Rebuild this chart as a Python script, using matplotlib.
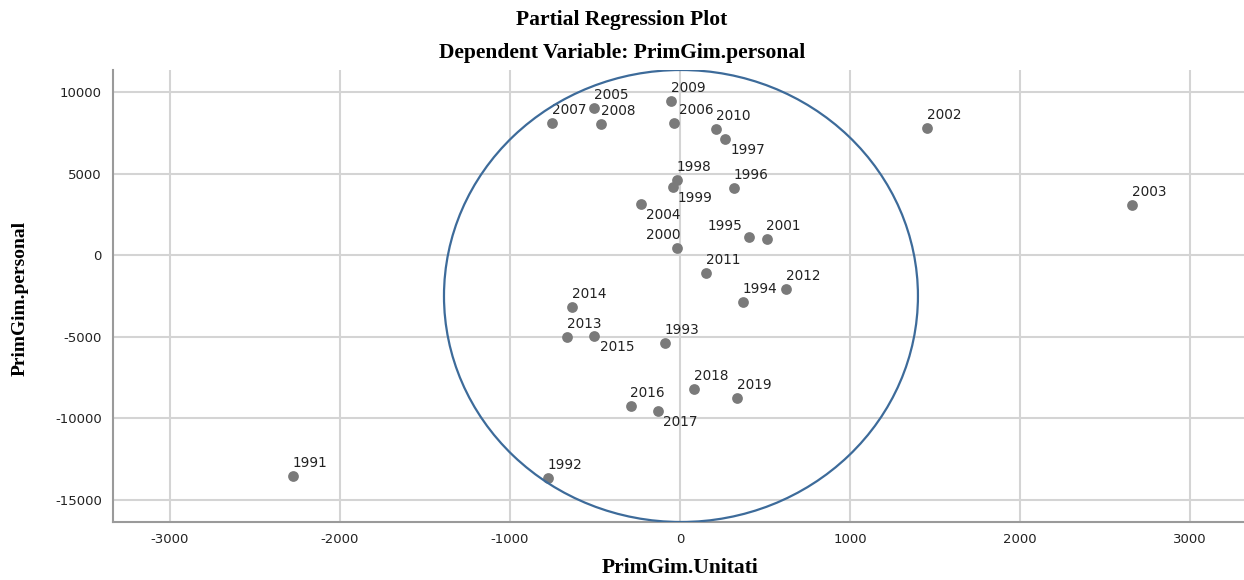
import numpy as np
import matplotlib
matplotlib.use('Agg')
import matplotlib.pyplot as plt
from matplotlib.patches import Ellipse

plt.rcParams['axes.unicode_minus'] = False

# ---------- Data ----------
years = ['1991', '1992', '2007', '2005', '2008', '2009', '2006', '2010', '1997',
         '1998', '1999', '1996', '2004', '1995', '2001', '2000', '2011', '2012',
         '1994', '2014', '2013', '2015', '1993', '2018', '2019', '2016', '2017',
         '2002', '2003']
unitati = [-2278, -778, -751, -506, -465, -53, -37, 212, 265,
           -19, -43, 319, -228, 404, 510, -19, 153, 625,
           372, -634, -663, -504, -90, 82, 335, -290, -128,
           1455, 2661]
personal = [-13521, -13681, 8098, 9055, 8055, 9485, 8098, 7767, 7135,
            4620, 4209, 4110, 3166, 1123, 982, 429, -1067, -2086,
            -2865, -3172, -5031, -4951, -5399, -8221, -8755, -9245, -9552,
            7791, 3086]

xticks = [-3000, -2000, -1000, 0, 1000, 2000, 3000]
yticks = [-15000, -10000, -5000, 0, 5000, 10000]

# label placement (pixel offset of label centre from point)
default_off = (17, 13)
special_off = {'1997': (23, -11), '1999': (22, -11), '2004': (22, -11),
               '2015': (23, -11), '2017': (22, -11), '1995': (-24, 11),
               '2000': (-13, 13), '2006': (23, 13)}

# ---------- Plot ----------
fig = plt.figure(figsize=(12.44, 5.8), dpi=100)
ax = fig.add_axes([113/1244, 58.3/580, 1-113/1244, (521.7-70)/580])

ax.set_xlim(-3335, 3318)
ax.set_ylim(-16343, 11368)
ax.set_xticks(xticks)
ax.set_yticks(yticks)
ax.grid(True, color='#d4d4d4', linewidth=1.5)
ax.set_axisbelow(True)
ax.tick_params(length=0, labelsize=9.5, colors='#222222', pad=8)

for s in ['top', 'right']:
    ax.spines[s].set_visible(False)
for s in ['left', 'bottom']:
    ax.spines[s].set_color('#9a9a9a')
    ax.spines[s].set_linewidth(1.5)

ax.scatter(unitati, personal, s=60, color='#7a7a7a', zorder=3, linewidths=0)

for yr, xv, yv in zip(years, unitati, personal):
    off = special_off.get(yr, default_off)
    ax.annotate(yr, (xv, yv), xytext=off, textcoords='offset pixels',
                ha='center', va='center', fontsize=9.8, color='#222222')

ax.add_patch(Ellipse((6, -2497), 2788, 27730, fill=False,
                     edgecolor='#3d6b9a', linewidth=1.6, zorder=4))

serif = ['Liberation Serif', 'DejaVu Serif']
fig.text(0.5, 1-20/580, 'Partial Regression Plot', ha='center', va='center',
         fontsize=15.5, fontweight='bold', family=serif)
fig.text(0.5, 1-53/580, 'Dependent Variable: PrimGim.personal', ha='center',
         va='center', fontsize=15.5, fontweight='bold', family=serif)
fig.text(680/1244, 1-568/580, 'PrimGim.Unitati', ha='center', va='center',
         fontsize=15.5, fontweight='bold', family=serif)
fig.text(20/1244, 1-298/580, 'PrimGim.personal', ha='center', va='center',
         rotation=90, fontsize=14, fontweight='bold', family=serif)

plt.savefig('out.png', dpi=100)
